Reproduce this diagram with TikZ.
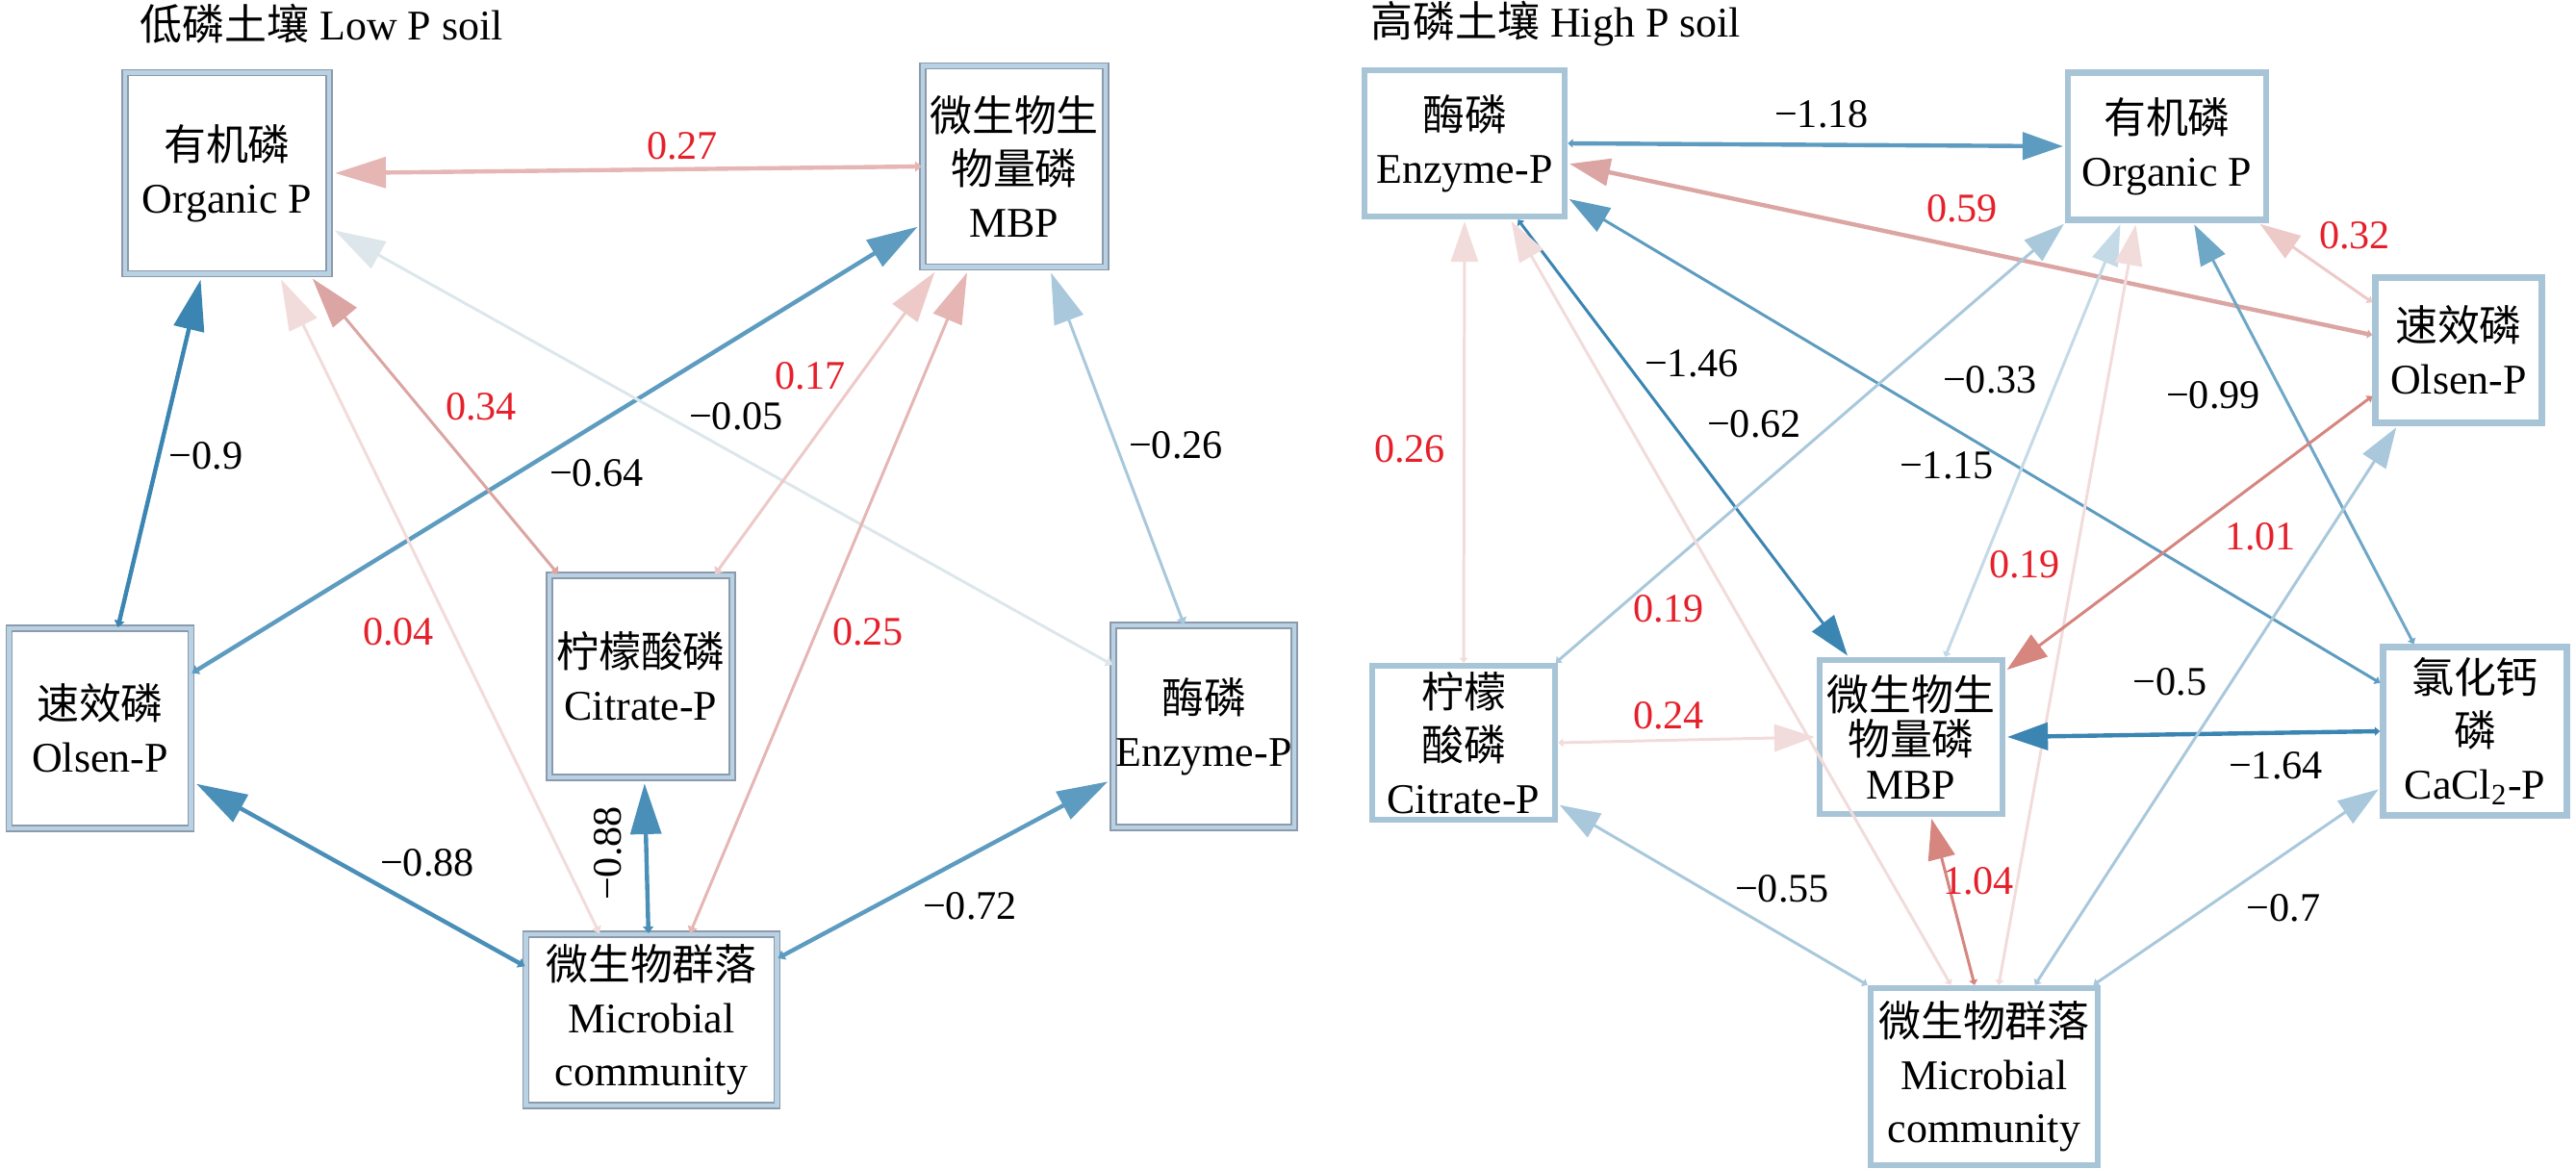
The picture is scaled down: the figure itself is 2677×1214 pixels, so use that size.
\documentclass[tikz,border=0pt]{standalone}
\usepackage{fontspec}
\setmainfont{Liberation Serif}
\newfontfamily\cjk{Noto Sans CJK SC}
\usetikzlibrary{arrows.meta}

\definecolor{boxgray}{HTML}{8C9AAB}
\definecolor{boxblue}{HTML}{B9D2E3}
\definecolor{rboxblue}{HTML}{A8C4D7}
\definecolor{numred}{HTML}{E5202A}
% blue scale (negative), red scale (positive)
\definecolor{b1}{HTML}{DDE7EB}
\definecolor{b2}{HTML}{C4DAE6}
\definecolor{b3}{HTML}{A9C8DB}
\definecolor{b4}{HTML}{6FA7C6}
\definecolor{b5}{HTML}{5D9CC0}
\definecolor{b6}{HTML}{4A8FB8}
\definecolor{b7}{HTML}{3B85B2}
\definecolor{r1}{HTML}{F2DCDB}
\definecolor{r2}{HTML}{EDCAC8}
\definecolor{r3}{HTML}{E5B6B4}
\definecolor{r4}{HTML}{DBA5A3}
\definecolor{r5}{HTML}{D6857F}

\begin{document}
\begin{tikzpicture}[x=0.01cm, y=-0.01cm,
    font=\fontsize{12.5}{15.6}\selectfont,
    lbox/.style={draw=boxgray, line width=0.5pt, double=boxblue, double distance=1.2pt,
        fill=white, align=center, inner sep=0pt},
    rbox/.style={draw=rboxblue, line width=1.8pt, fill=white, align=center, inner sep=0pt},
    lpath/.style={draw=#1, line width=0.85pt,
        arrows={Triangle[length=2pt,width=3pt]-Triangle[length=15pt,width=9pt]}, shorten >=1.5pt},
    rpath/.style={draw=#1, line width=0.85pt,
        arrows={Triangle[length=1.5pt,width=2.5pt]-Triangle[length=12pt,width=8pt]}, shorten >=0.5pt},
    heavy/.style={line width=1.25pt},
    val/.style={font=\fontsize{12}{14}\selectfont},
    pval/.style={val, text=numred}]
    \useasboundingbox (0,0) rectangle (2677,1214);

    % low P soil
    \node[anchor=west] (t1) at (133,25) {{\cjk 低磷土壤} Low P soil};
    \node[lbox, minimum width=2.12cm, minimum height=2.09cm] (O) at (236,180) {{\cjk 有机磷}\\Organic P};
    \node[lbox, minimum width=1.90cm, minimum height=2.09cm] (M) at (1054,173) {{\cjk 微生物生}\\{\cjk 物量磷}\\MBP};
    \node[lbox, minimum width=1.90cm, minimum height=2.10cm] (C) at (666,703) {{\cjk 柠檬酸磷}\\Citrate-P};
    \node[lbox, minimum width=1.89cm, minimum height=2.08cm] (S) at (104,757) {{\cjk 速效磷}\\Olsen-P};
    \node[lbox, minimum width=1.88cm, minimum height=2.10cm] (E) at (1251,755) {{\cjk 酶磷}\\Enzyme-P};
    \node[lbox, minimum width=2.61cm, minimum height=1.78cm] (B) at (677,1060) {{\cjk 微生物群落}\\Microbial\\community};

    \draw[lpath=r3, heavy] (M.180) -- (O.0);
    \draw[lpath=b7, heavy] (S.80) -- (O.256);
    \draw[lpath=b5, heavy] (S.31) -- (M.212);
    \draw[lpath=b1] (E.146) -- (O.332);
    \draw[lpath=r4] (C.129) -- (O.309);
    \draw[lpath=r1] (B.121) -- (O.297);
    \draw[lpath=r2] (C.54) -- (M.233);
    \draw[lpath=r3] (B.66) -- (M.246);
    \draw[lpath=b3] (E.101) -- (M.289);
    \draw[lpath=b6, heavy] (B.157) -- (S.330);
    \draw[lpath=b6, heavy] (B.92) -- (C.272);
    \draw[lpath=b5, heavy] (B.26) -- (E.210);

    \node[pval] (l1) at (709,152) {0.27};
    \node[val] (l2) at (214,474) {−0.9};
    \node[val] (l3) at (620,492) {−0.64};
    \node[val] (l4) at (765,433) {−0.05};
    \node[pval] (l5) at (500,423) {0.34};
    \node[pval] (l6) at (414,657) {0.04};
    \node[pval] (l7) at (842,391) {0.17};
    \node[pval] (l8) at (902,657) {0.25};
    \node[val] (l9) at (1222,463) {−0.26};
    \node[val] (l10) at (444,897) {−0.88};
    \node[val, rotate=90] (l11) at (632,887) {−0.88};
    \node[val] (l12) at (1008,942) {−0.72};

    % high P soil
    \node[anchor=west] (t2) at (1412,25) {{\cjk 高磷土壤} High P soil};
    \node[rbox, minimum width=2.08cm, minimum height=1.52cm] (E2) at (1522,149) {{\cjk 酶磷}\\Enzyme-P};
    \node[rbox, minimum width=2.06cm, minimum height=1.53cm] (O2) at (2252,152) {{\cjk 有机磷}\\Organic P};
    \node[rbox, minimum width=1.73cm, minimum height=1.51cm] (S2) at (2555,364) {{\cjk 速效磷}\\Olsen-P};
    \node[rbox, minimum width=1.90cm, minimum height=1.60cm] (C2) at (1521,772) {{\cjk 柠檬}\\{\cjk 酸磷}\\Citrate-P};
    \node[rbox, minimum width=1.90cm, minimum height=1.60cm, font=\fontsize{12.5}{13}\selectfont] (M2) at (1986,766) {{\cjk 微生物生}\\{\cjk 物量磷}\\MBP};
    \node[rbox, minimum width=1.91cm, minimum height=1.75cm] (K2) at (2572,760) {{\cjk 氯化钙}\\{\cjk 磷}\\CaCl\textsubscript{2}-P};
    \node[rbox, minimum width=2.36cm, minimum height=1.84cm] (B2) at (2062,1119) {{\cjk 微生物群落}\\Microbial\\community};

    \draw[rpath=b5, heavy] (E2.0) -- (O2.180);
    \draw[rpath=r4, heavy] (S2.170) -- (E2.349);
    \draw[rpath=r2] (S2.151) -- (O2.320);
    \draw[rpath=b7] (E2.305) -- (M2.128);
    \draw[rpath=b5] (K2.153) -- (E2.332);
    \draw[rpath=b3] (C2.41) -- (O2.217);
    \draw[rpath=b2] (M2.67) -- (O2.239);
    \draw[rpath=r1] (B2.81) -- (O2.248);
    \draw[rpath=b4] (K2.125) -- (O2.289);
    \draw[rpath=r5] (S2.208) -- (M2.35);
    \draw[rpath=r1] (C2.north) -- (E2.south);
    \draw[rpath=r1] (B2.110) -- (E2.301);
    \draw[rpath=r1] (C2.east) -- (M2.west);
    \draw[rpath=b7, heavy] (K2.west) -- (M2.east);
    \draw[rpath=b3] (B2.north west) -- (C2.327);
    \draw[rpath=b3] (B2.40) -- (K2.211);
    \draw[rpath=b3] (B2.61) -- (S2.231);
    \draw[rpath=r5] (B2.96) -- (M2.284);

    \node[val] (m1) at (1893,119) {−1.18};
    \node[pval] (m2) at (2039,217) {0.59};
    \node[pval] (m3) at (2447,245) {0.32};
    \node[val] (m4) at (1758,378) {−1.46};
    \node[val] (m5) at (2023,484) {−1.15};
    \node[val] (m6) at (1823,441) {−0.62};
    \node[val] (m7) at (2068,395) {−0.33};
    \node[pval] (m8) at (2104,587) {0.19};
    \node[val] (m9) at (2300,411) {−0.99};
    \node[pval] (m10) at (2349,558) {1.01};
    \node[pval] (m11) at (1465,467) {0.26};
    \node[pval] (m12) at (1734,633) {0.19};
    \node[pval] (m13) at (1734,744) {0.24};
    \node[val] (m14) at (2365,796) {−1.64};
    \node[val] (m15) at (1852,924) {−0.55};
    \node[val] (m16) at (2373,944) {−0.7};
    \node[val] (m17) at (2255,709) {−0.5};
    \node[pval] (m18) at (2056,916) {1.04};
\end{tikzpicture}
\end{document}
